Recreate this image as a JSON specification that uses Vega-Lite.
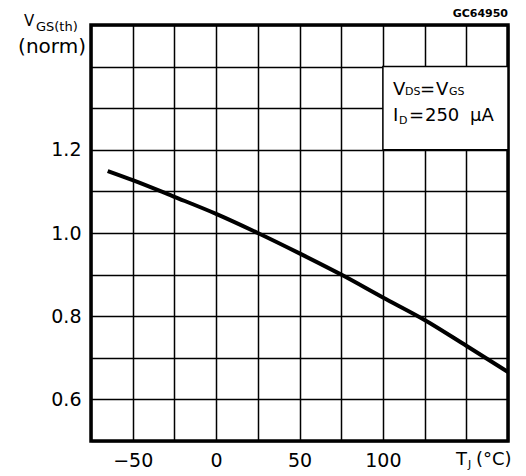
{
  "$schema": "https://vega.github.io/schema/vega-lite/v6.json",
  "width": 417,
  "height": 416,
  "autosize": {"type": "none"},
  "padding": {"left": 91, "top": 25, "right": 18, "bottom": 35},
  "background": "white",
  "datasets": {
    "curve": [
      {"T": -65, "V": 1.149},
      {"T": -50, "V": 1.127},
      {"T": -25, "V": 1.087},
      {"T": 0, "V": 1.046},
      {"T": 25, "V": 1.000},
      {"T": 50, "V": 0.951},
      {"T": 75, "V": 0.900},
      {"T": 100, "V": 0.845},
      {"T": 125, "V": 0.791},
      {"T": 150, "V": 0.729},
      {"T": 175, "V": 0.666}
    ],
    "box": [{"T": 100, "T2": 175, "V": 1.2, "V2": 1.4}],
    "bigLeft": [
      {"T": 106.0, "V": 1.332, "text": "V"},
      {"T": 122.2, "V": 1.332, "text": "="},
      {"T": 131.8, "V": 1.332, "text": "V"},
      {"T": 106.0, "V": 1.269, "text": "I"},
      {"T": 115.6, "V": 1.269, "text": "="},
      {"T": 125.2, "V": 1.269, "text": "250"},
      {"T": 152.2, "V": 1.269, "text": "µA"},
      {"T": 143.8, "V": 0.4423, "text": "T"},
      {"T": 155.8, "V": 0.4423, "text": "(°C)"}
    ],
    "smallLeft": [
      {"T": 113.3, "V": 1.332, "text": "DS"},
      {"T": 139.6, "V": 1.332, "text": "GS"},
      {"T": 109.6, "V": 1.262, "text": "D"},
      {"T": 151.0, "V": 0.4351, "text": "J"}
    ],
    "code": [{"T": 175, "V": 1.5192, "text": "GC64950"}],
    "yTitleV": [{"T": -115.2, "V": 1.4976, "text": "V"}],
    "yTitleSub": [{"T": -108.0, "V": 1.4856, "text": "GS(th)"}],
    "yTitleNorm": [{"T": -78.0, "V": 1.4327, "text": "(norm)"}]
  },
  "encoding": {
    "x": {
      "field": "T",
      "type": "quantitative",
      "scale": {"domain": [-75, 175], "nice": false, "zero": false},
      "axis": {
        "values": [-75, -50, -25, 0, 25, 50, 75, 100, 125, 150, 175],
        "labelExpr": "indexof([-50, 0, 50, 100], datum.value) >= 0 ? datum.label : ''",
        "grid": true,
        "gridColor": "black",
        "gridWidth": 1.5,
        "gridOpacity": 1,
        "ticks": false,
        "domain": false,
        "title": null,
        "labelFont": "DejaVu Sans",
        "labelFontSize": 19,
        "labelColor": "black",
        "labelPadding": 10,
        "labelFlush": false,
        "labelOverlap": false
      }
    },
    "y": {
      "field": "V",
      "type": "quantitative",
      "scale": {"domain": [0.5, 1.5], "nice": false, "zero": false},
      "axis": {
        "values": [0.5, 0.6, 0.7, 0.8, 0.9, 1.0, 1.1, 1.2, 1.3, 1.4, 1.5],
        "labelExpr": "indexof([0.6, 0.8, 1, 1.2], datum.value) >= 0 ? format(datum.value, '.1f') : ''",
        "grid": true,
        "gridColor": "black",
        "gridWidth": 1.5,
        "gridOpacity": 1,
        "ticks": false,
        "domain": false,
        "title": null,
        "labelFont": "DejaVu Sans",
        "labelFontSize": 19,
        "labelColor": "black",
        "labelPadding": 10,
        "labelFlush": false,
        "labelOverlap": false
      }
    }
  },
  "layer": [
    {
      "data": {"name": "box"},
      "mark": {"type": "rect", "fill": "white", "stroke": "black", "strokeWidth": 1.5},
      "encoding": {"x2": {"field": "T2"}, "y2": {"field": "V2"}}
    },
    {
      "data": {"name": "curve"},
      "mark": {"type": "line", "color": "black", "strokeWidth": 4, "interpolate": "monotone"}
    },
    {
      "data": {"name": "bigLeft"},
      "mark": {"type": "text", "align": "left", "baseline": "alphabetic", "font": "DejaVu Sans", "fontSize": 18, "color": "black"},
      "encoding": {"text": {"field": "text"}}
    },
    {
      "data": {"name": "smallLeft"},
      "mark": {"type": "text", "align": "left", "baseline": "alphabetic", "font": "DejaVu Sans", "fontSize": 11, "color": "black"},
      "encoding": {"text": {"field": "text"}}
    },
    {
      "data": {"name": "code"},
      "mark": {"type": "text", "align": "right", "baseline": "alphabetic", "font": "DejaVu Sans", "fontSize": 11, "fontWeight": "bold", "color": "black"},
      "encoding": {"text": {"field": "text"}}
    },
    {
      "data": {"name": "yTitleV"},
      "mark": {"type": "text", "align": "left", "baseline": "alphabetic", "font": "DejaVu Sans", "fontSize": 15, "color": "black"},
      "encoding": {"text": {"field": "text"}}
    },
    {
      "data": {"name": "yTitleSub"},
      "mark": {"type": "text", "align": "left", "baseline": "alphabetic", "font": "DejaVu Sans", "fontSize": 13, "color": "black"},
      "encoding": {"text": {"field": "text"}}
    },
    {
      "data": {"name": "yTitleNorm"},
      "mark": {"type": "text", "align": "right", "baseline": "alphabetic", "font": "DejaVu Sans", "fontSize": 20, "color": "black"},
      "encoding": {"text": {"field": "text"}}
    }
  ],
  "config": {
    "view": {"stroke": "black", "strokeWidth": 3.5}
  }
}
